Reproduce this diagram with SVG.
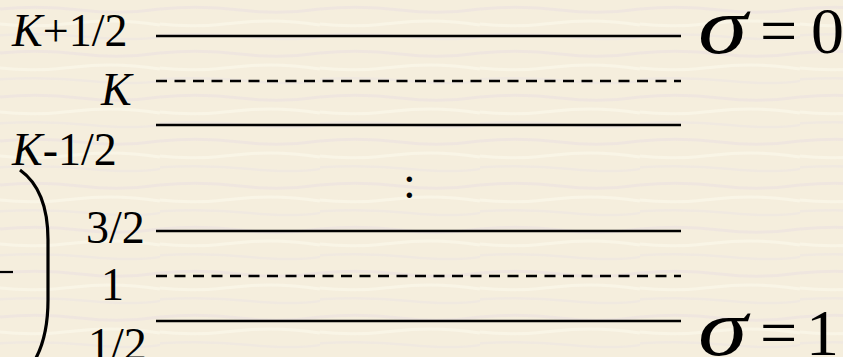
<svg xmlns="http://www.w3.org/2000/svg" width="843" height="357" viewBox="0 0 843 357">
<defs>
<pattern id="tex" x="0" y="0" width="160" height="44" patternUnits="userSpaceOnUse">
<rect width="160" height="44" fill="#f5eedd"/>
<path d="M0 9 Q40 5 80 10 T160 9" fill="none" stroke="#ebe1e1" stroke-width="3" opacity="0.6"/>
<path d="M0 24 Q35 28 75 23 T160 25" fill="none" stroke="#faf6e9" stroke-width="3" opacity="0.8"/>
<path d="M-10 36 Q40 32 90 37 T170 35" fill="none" stroke="#ece3e3" stroke-width="2.5" opacity="0.5"/>
</pattern>
<style>
.lbl{font-family:"Liberation Serif","Times New Roman",serif;font-size:46px;fill:#000}
.it{font-style:italic}
.sig{font-family:"Liberation Serif","Times New Roman",serif;font-size:66px;fill:#000}
.sg{font-family:"Liberation Serif","Times New Roman",serif;font-size:80px;font-style:italic;fill:#000}
.solid{stroke:#000;stroke-width:2.5;fill:none}
.dash{stroke:#000;stroke-width:2.5;stroke-dasharray:11 7.5;fill:none}
</style>
</defs>
<rect width="843" height="357" fill="url(#tex)"/>
<g id="connectors">
<line class="solid" x1="156" y1="36" x2="681" y2="36"/>
<line class="dash" x1="156" y1="81" x2="681" y2="81"/>
<line class="solid" x1="156" y1="125" x2="681" y2="125"/>
<line class="solid" x1="156" y1="231" x2="681" y2="231"/>
<line class="dash" x1="156" y1="276" x2="681" y2="276"/>
<line class="solid" x1="156" y1="321" x2="681" y2="321"/>
</g>
<g id="label-k-plus-half"><text class="lbl" x="12" y="46"><tspan class="it">K</tspan>+1/2</text></g>
<g id="label-k"><text class="lbl it" x="101" y="105">K</text></g>
<g id="label-k-minus-half"><text class="lbl" x="12" y="165"><tspan class="it">K</tspan>-1/2</text></g>
<g id="label-dots"><text class="lbl" x="403" y="198">:</text></g>
<g id="label-3-2"><text class="lbl" x="86" y="243">3/2</text></g>
<g id="label-1"><text class="lbl" x="101" y="300">1</text></g>
<g id="label-1-2"><text class="lbl" x="88" y="360">1/2</text></g>
<g id="sigma-0">
<text class="sg" transform="translate(698 53) scale(1.25 1)" x="0" y="0">σ</text>
<text class="sig" y="53"><tspan x="760">=</tspan><tspan x="811">0</tspan></text>
</g>
<g id="sigma-1">
<text class="sg" transform="translate(698 355) scale(1.25 1)" x="0" y="0">σ</text>
<text class="sig" y="355"><tspan x="760">=</tspan><tspan x="806">1</tspan></text>
</g>
<g id="bracket">
<path d="M20 170 Q48 190 48 240 L48 300 Q48 335 36 358" fill="none" stroke="#000" stroke-width="3.2"/>
<line x1="0" y1="272" x2="13" y2="272" stroke="#000" stroke-width="2.2"/>
</g>
</svg>
